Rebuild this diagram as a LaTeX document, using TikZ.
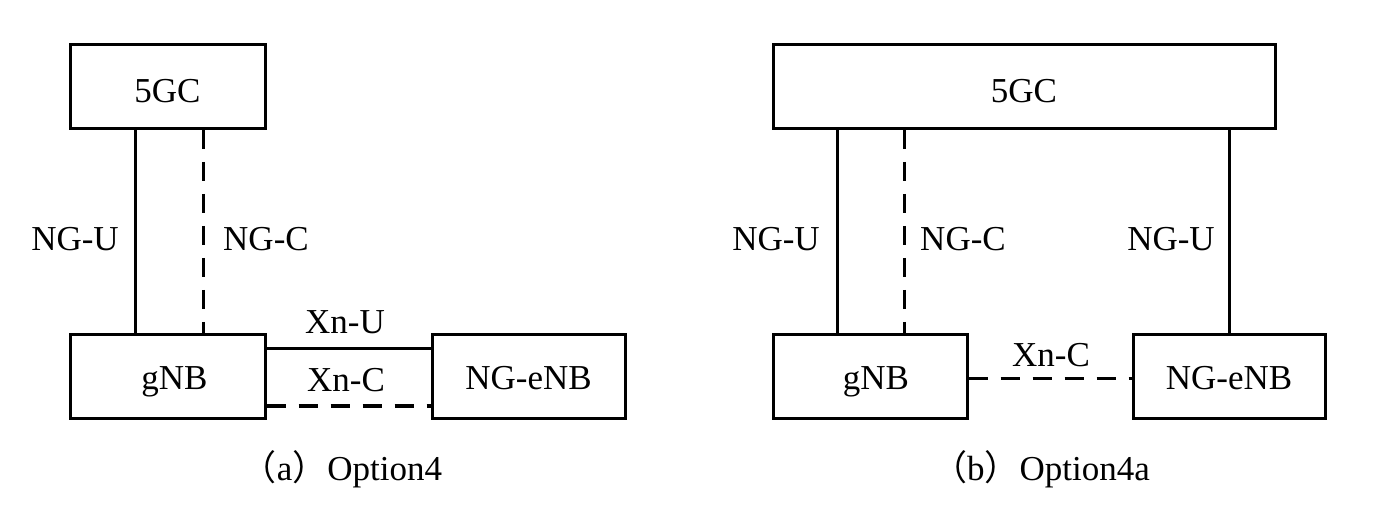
\documentclass[tikz,border=0pt]{standalone}
\usepackage{fontspec}
\setmainfont{Liberation Serif}
\newfontfamily\cjk{Noto Sans CJK SC}
\begin{document}
\begin{tikzpicture}[x=0.5pt,y=-0.5pt,
  every node/.style={font=\fontsize{17.5}{20}\selectfont},
  nbox/.style={draw,line width=1.5pt,rectangle,inner sep=0pt,minimum height=42pt,
    text height=13.5pt,text depth=0pt},
  corebox/.style={nbox,text height=16.5pt},
  lnk/.style={line width=1.5pt},
  dlnk/.style={line width=1.5pt,dash pattern=on 9.5pt off 6.5pt},
  lbl/.style={anchor=base,inner sep=0pt}]
\useasboundingbox (0,0) rectangle (1400,517);
% (a)
\node[corebox,minimum width=97.5pt] (c1) at (167.5,86.5) {5GC};
\node[nbox,minimum width=97.5pt] (g1) at (167.5,376.5) {\hspace{7pt}gNB};
\node[nbox,minimum width=96.5pt] (e1) at (528.5,376.5) {NG-eNB};
\coordinate (u1) at (135,0);
\coordinate (k1) at (203,0);
\coordinate (xu1) at (0,349);
\coordinate (xc1) at (0,406);
\draw[lnk] (u1 |- c1.south) -- (u1 |- g1.north);
\draw[dlnk] (k1 |- c1.south) -- (k1 |- g1.north);
\draw[lnk] (g1.east |- xu1) -- (e1.west |- xu1);
\draw[dlnk] (g1.east |- xc1) -- (e1.west |- xc1);
\node[lbl] (l1) at (75,251) {NG-U};
\node[lbl] (l2) at (266,251) {NG-C};
\node[lbl] (l3) at (345,334) {Xn-U};
\node[lbl] (l4) at (346,392) {Xn-C};
\node[lbl] (cap1) at (342,480) {{\cjk （}a{\cjk ）}Option4};
% (b)
\node[corebox,minimum width=251pt] (c2) at (1024,86.5) {5GC};
\node[nbox,minimum width=97pt] (g2) at (870,376.5) {\hspace{6pt}gNB};
\node[nbox,minimum width=96pt] (e2) at (1229,376.5) {NG-eNB};
\coordinate (u2) at (837,0);
\coordinate (k2) at (904,0);
\coordinate (u3) at (1229,0);
\coordinate (xc2) at (0,379);
\draw[lnk] (u2 |- c2.south) -- (u2 |- g2.north);
\draw[dlnk] (k2 |- c2.south) -- (k2 |- g2.north);
\draw[lnk] (u3 |- c2.south) -- (u3 |- e2.north);
\draw[dlnk] (g2.east |- xc2) -- (e2.west |- xc2);
\node[lbl] (l5) at (776,251) {NG-U};
\node[lbl] (l6) at (963,251) {NG-C};
\node[lbl] (l7) at (1171,251) {NG-U};
\node[lbl] (l8) at (1051,367) {Xn-C};
\node[lbl] (cap2) at (1041,480) {{\cjk （}b{\cjk ）}Option4a};
\end{tikzpicture}
\end{document}
